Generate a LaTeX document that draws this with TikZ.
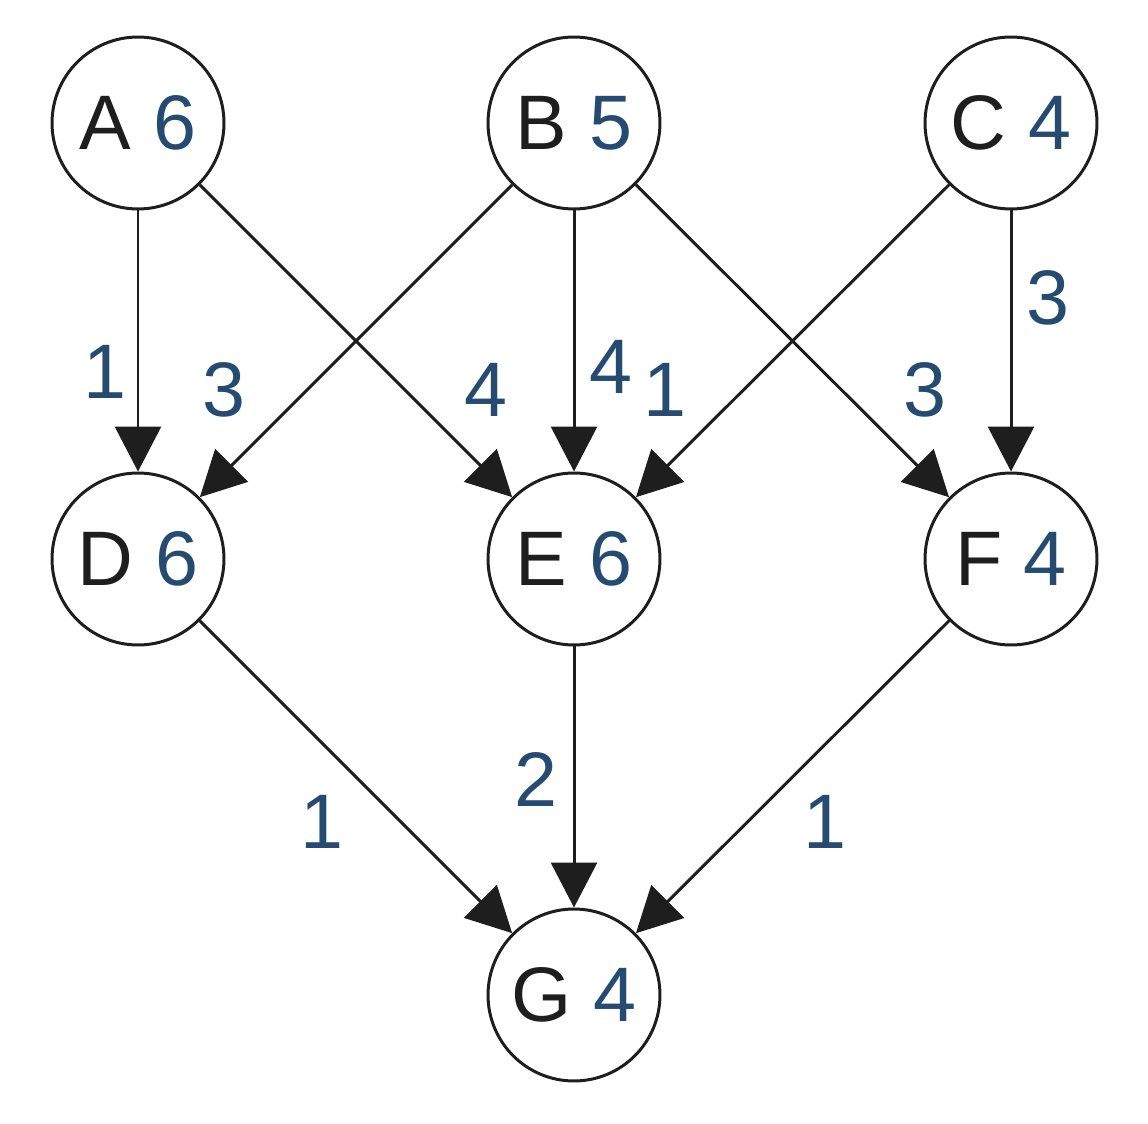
\documentclass[tikz,border=0pt]{standalone}
\usepackage{fontspec}
\setmainfont{Liberation Sans}
\usetikzlibrary{arrows.meta}
\definecolor{ink}{RGB}{30,30,30}
\definecolor{numblue}{RGB}{38,75,112}
\begin{document}
\begin{tikzpicture}[x=0.02cm, y=-0.02cm,
    vtx/.style={circle, draw=ink, line width=1.7pt, minimum size=3.44cm, inner sep=0pt,
      text=ink, font=\fontsize{44}{50}\selectfont},
    edge/.style={draw=ink, line width=1.7pt, -{Triangle[length=0.9cm, width=0.92cm]}},
    lbl/.style={text=numblue, font=\fontsize{44}{50}\selectfont, inner sep=0pt}]
  \useasboundingbox (0,0) rectangle (1148,1124);

  % Vertices
    \node[vtx] (A) at (138,123) {A \textcolor{numblue}{6}};
    \node[vtx] (B) at (574,123) {B \textcolor{numblue}{5}};
    \node[vtx] (C) at (1011,123) {C \textcolor{numblue}{4}};
    \node[vtx] (D) at (138,559) {D \textcolor{numblue}{6}};
    \node[vtx] (E) at (574,559) {E \textcolor{numblue}{6}};
    \node[vtx] (F) at (1011,559) {F \textcolor{numblue}{4}};
    \node[vtx] (G) at (574,995) {G \textcolor{numblue}{4}};

  % Top row to middle row
    \draw[edge] (A) -- (D) node[lbl, pos=.62, xshift=-0.66cm] {1};
    \draw[edge] (A) -- (E) node[lbl, pos=.657, xshift=1.62cm] {4};
    \draw[edge] (B) -- (D) node[lbl, pos=.657, xshift=-1.66cm] {3};
    \draw[edge] (B) -- (E) node[lbl, pos=.60, xshift=0.74cm] {4};
    \draw[edge] (B) -- (F) node[lbl, pos=.657, xshift=1.66cm] {3};
    \draw[edge] (C) -- (E) node[lbl, pos=.657, xshift=-1.56cm] {1};
    \draw[edge] (C) -- (F) node[lbl, pos=.336, xshift=0.74cm] {3};

  % Middle row to G
    \draw[edge] (D) -- (G) node[lbl, pos=.644, xshift=-1.58cm] {1};
    \draw[edge] (E) -- (G) node[lbl, pos=.51, xshift=-0.76cm] {2};
    \draw[edge] (F) -- (G) node[lbl, pos=.644, xshift=1.56cm] {1};

\end{tikzpicture}
\end{document}
